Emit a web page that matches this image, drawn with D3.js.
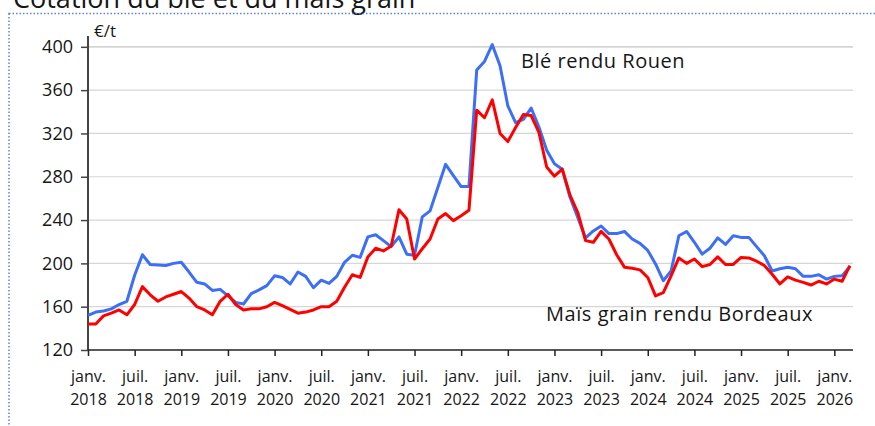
<!DOCTYPE html>
<html>
<head>
<meta charset="utf-8">
<script src="https://cdn.jsdelivr.net/npm/d3@7"></script>
<style>
  body { margin: 0; background: #fff; }
  text { font-family: "Open Sans", sans-serif; fill: #161616; }
</style>
</head>
<body>
<div id="chart"></div>
<script>
// months from janv. 2018 (index 0) to mars 2026 (index 98)
const startYear = 2018;

// €/t, Blé rendu Rouen
const ble = [
  152, 155, 156, 158, 162, 165, 189, 208, 199, 198.5, 198, 200,
  201, 192, 182.5, 181, 175, 176, 170, 164, 162.5, 172, 175.5, 179.5,
  188.5, 187, 181, 192, 188, 177.5, 184.5, 181.5, 188, 201, 207.5, 205.5,
  224.5, 226.5, 221, 215.5, 224.5, 208.5, 207.5, 243, 248.5, 270, 291.5, 281,
  271, 271, 378.5, 386.5, 402, 382.5, 345.5, 330, 333, 343.5, 326, 304.5,
  292, 287, 261, 242.5, 223.5, 230, 234.5, 227.5, 227.5, 229.5, 222.5, 218.5,
  212, 199.5, 184, 193, 225.5, 229.5, 219.5, 208.5, 214, 223.5, 217.5, 225.5,
  224, 224, 215.5, 207, 193, 195, 196.5, 195, 188, 188, 189.5, 185.5,
  188, 188.5, 197
];

// €/t, Maïs grain rendu Bordeaux
const mais = [
  144, 144, 151.5, 154, 157, 152.5, 162, 178.5, 171, 165, 169, 171.5,
  174, 168, 160, 157, 152.5, 165, 171.5, 162, 157, 158, 158, 160,
  164, 161, 157.5, 154, 155, 157, 160, 160, 165, 178, 189.5, 187,
  206, 214, 211.5, 216, 249.5, 241, 204, 213.5, 222.5, 241, 246, 239.5,
  244, 249, 341.5, 334.5, 351, 320, 312.5, 325.5, 337.5, 336.5, 321, 289,
  280.5, 287, 263, 247, 221, 219.5, 229.5, 222.5, 208, 196.5, 195.5, 194,
  187, 170, 173, 188.5, 205, 200, 204, 197, 199, 206, 199, 199,
  205.5, 205, 202, 198, 190, 181, 187.5, 184.5, 182.5, 180, 183.5, 181,
  185.5, 183.5, 198
];

const yTicks = [120, 160, 200, 240, 280, 320, 360, 400];
const xTicks = d3.range(0, 97, 6);
const monthNames = ["janv.", "juil."];

const W = 875, H = 426;

const svg = d3.select("#chart")
    .append("svg")
    .attr("width", W)
    .attr("height", H);

// title (cut at top, as in the source)
svg.append("text")
    .attr("x", 13)
    .attr("y", 8)
    .attr("font-size", "27px")
    .text("Cotation du blé et du maïs grain");

// dotted frame
svg.append("rect")
    .attr("x", 9)
    .attr("y", 13.5)
    .attr("width", 900)
    .attr("height", 450)
    .attr("fill", "none")
    .attr("stroke", "#5b82e0")
    .attr("stroke-width", 1.5)
    .attr("stroke-dasharray", "1.5,2");

// SCALES
const x = d3.scaleLinear()
    .domain([0, 98.4])
    .range([88, 853]);

const y = d3.scaleLinear()
    .domain([120, 410])
    .range([350, 36]);

// GRID
svg.append("g")
    .selectAll("line")
    .data(yTicks.slice(1))
    .enter()
    .append("line")
    .attr("x1", x(0))
    .attr("x2", x.range()[1])
    .attr("y1", d => y(d))
    .attr("y2", d => y(d))
    .attr("stroke", d => d === 400 ? "#c4c4c4" : "#d6d6d6")
    .attr("stroke-width", 1.2);

// Y AXIS
const yAxis = svg.append("g")
    .attr("transform", `translate(${x(0)},0)`)
    .call(d3.axisLeft(y).tickValues(yTicks).tickSize(7).tickPadding(8));
yAxis.select(".domain")
    .attr("stroke", "#444")
    .attr("stroke-width", 2)
    .attr("d", `M0,${y.range()[0]}V${y.range()[1]}`);
yAxis.selectAll(".tick line").attr("stroke", "#444").attr("stroke-width", 1.5);
yAxis.selectAll(".tick text")
    .attr("font-size", "18px")
    .attr("fill", "#161616")
    .attr("font-family", "Open Sans, sans-serif");

// X AXIS
const xAxis = svg.append("g")
    .attr("transform", `translate(0,${y(120)})`)
    .call(d3.axisBottom(x).tickValues(xTicks).tickSize(6).tickFormat(""));
xAxis.select(".domain")
    .attr("stroke", "#222")
    .attr("stroke-width", 1.5)
    .attr("d", `M${x.range()[0]},0H${x.range()[1]}`);
xAxis.selectAll(".tick line").attr("stroke", "#222").attr("stroke-width", 1.5);

const xLab = xAxis.selectAll(".tick")
    .append("text")
    .attr("text-anchor", "middle")
    .attr("font-size", "16px")
    .attr("font-family", "Open Sans, sans-serif")
    .attr("fill", "#161616");
xLab.append("tspan")
    .attr("x", 0)
    .attr("y", 32)
    .text(d => monthNames[(d % 12) / 6]);
xLab.append("tspan")
    .attr("x", 0)
    .attr("y", 55)
    .text(d => startYear + Math.floor(d / 12));

// unit
svg.append("text")
    .attr("x", 94)
    .attr("y", 37)
    .attr("font-size", "17px")
    .text("€/t");

// LINES
const line = d3.line()
    .x((d, i) => x(i))
    .y(d => y(d));

svg.append("path")
    .datum(ble)
    .attr("fill", "none")
    .attr("stroke", "#3c6ff5")
    .attr("stroke-width", 3)
    .attr("stroke-linejoin", "round")
    .attr("d", line);

// red line on top
svg.append("path")
    .datum(mais)
    .attr("fill", "none")
    .attr("stroke", "#ff0000")
    .attr("stroke-width", 3)
    .attr("stroke-linejoin", "round")
    .attr("d", line);

// LABELS
svg.append("text")
    .attr("x", 521)
    .attr("y", 68)
    .attr("font-size", "20px")
    .attr("letter-spacing", "0.55px")
    .text("Blé rendu Rouen");

svg.append("text")
    .attr("x", 546)
    .attr("y", 321)
    .attr("font-size", "20px")
    .attr("letter-spacing", "0.55px")
    .text("Maïs grain rendu Bordeaux");
</script>
</body>
</html>
